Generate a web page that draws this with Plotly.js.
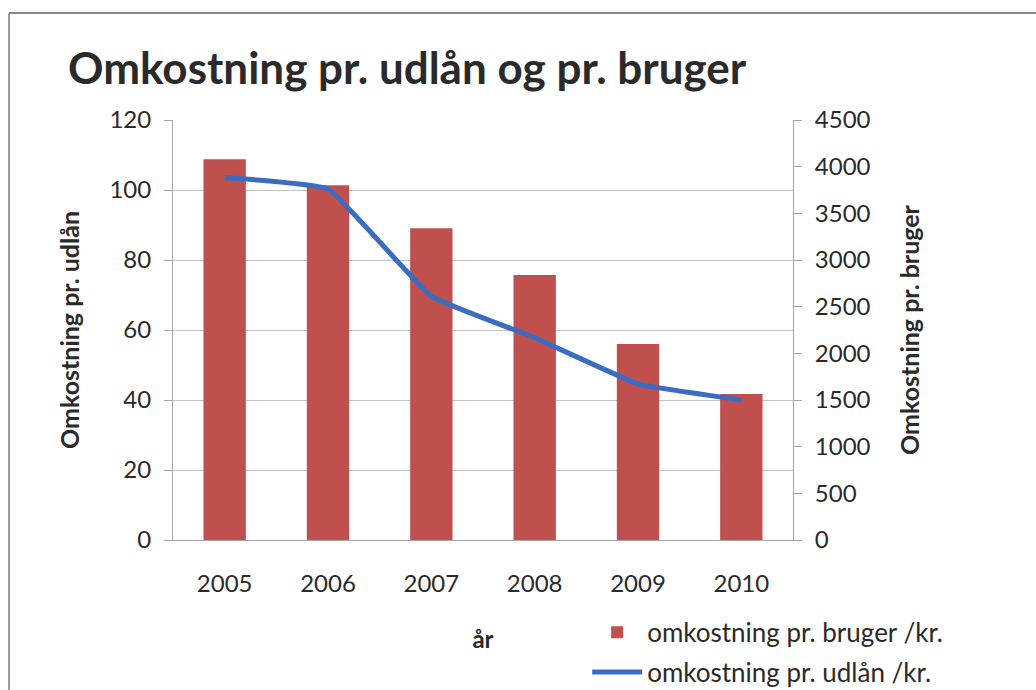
<!DOCTYPE html>
<html>
<head>
<meta charset="utf-8">
<script src="https://cdn.plot.ly/plotly-3.0.1.min.js"></script>
<style>
  html, body { margin: 0; padding: 0; background: #ffffff; }
  #chart { width: 1036px; height: 690px; }
</style>
</head>
<body>
<div id="chart"></div>
<script>
// ---- data ----
const years = ['2005', '2006', '2007', '2008', '2009', '2010'];
const costPerUser = [4080, 3800, 3340, 2840, 2100, 1565];   // omkostning pr. bruger /kr. (right axis)
const costPerLoan = [103.6, 100.3, 69.6, 57.8, 44.6, 40.0]; // omkostning pr. udlån /kr. (left axis)
const leftTicks = [0, 20, 40, 60, 80, 100, 120];
const rightTicks = [0, 500, 1000, 1500, 2000, 2500, 3000, 3500, 4000, 4500];

const FONT = 'Lato, "Open Sans", sans-serif';
const TXT = '#2a2a2a';

const traces = [
  {
    type: 'bar',
    name: 'omkostning pr. bruger /kr.',
    legendgroup: 'a',
    x: years,
    y: costPerUser,
    yaxis: 'y',
    marker: { color: '#C0504D' },
    hoverinfo: 'x+y'
  },
  {
    type: 'scatter',
    mode: 'lines',
    name: 'omkostning pr. udlån /kr.',
    legendgroup: 'b',
    x: years,
    y: costPerLoan,
    yaxis: 'y2',
    line: { color: '#3A6CC2', width: 5, shape: 'spline', smoothing: 0.3 },
    hoverinfo: 'x+y'
  }
];

const layout = {
  width: 1036,
  height: 690,
  paper_bgcolor: '#ffffff',
  plot_bgcolor: '#ffffff',
  font: { family: FONT, color: TXT, size: 22 },
  margin: { l: 173, r: 243, t: 120, b: 150, pad: 0, autoexpand: false },
  showlegend: true,
  title: {
    text: '<b>Omkostning pr. udlån og pr. bruger</b>',
    font: { family: FONT, size: 44, color: TXT },
    xref: 'container', x: 0.0656, xanchor: 'left',
    yref: 'container', y: 0.9, yanchor: 'middle'
  },
  bargap: 0.59,
  xaxis: {
    type: 'category',
    categoryorder: 'array',
    categoryarray: years,
    automargin: false,
    showline: true, linecolor: '#a6a6a6', linewidth: 1,
    showgrid: false, zeroline: false,
    ticks: '', ticklabelstandoff: 22,
    tickfont: { family: FONT, size: 24, color: TXT },
    title: { text: '<b>år</b>', font: { family: FONT, size: 24, color: TXT }, standoff: 35 }
  },
  yaxis: {
    side: 'right',
    range: [0, 4500],
    tickvals: rightTicks,
    automargin: false,
    showline: true, linecolor: '#a6a6a6', linewidth: 1,
    ticks: 'outside', ticklen: 8, tickcolor: '#a6a6a6',
    ticklabelstandoff: 8,
    showgrid: false, zeroline: false,
    tickfont: { family: FONT, size: 24, color: TXT },
    title: { text: '<b>Omkostning pr. bruger</b>', font: { family: FONT, size: 25, color: TXT }, standoff: 31 }
  },
  yaxis2: {
    overlaying: 'y',
    side: 'left',
    range: [0, 120],
    tickvals: leftTicks,
    automargin: false,
    showline: true, linecolor: '#a6a6a6', linewidth: 1,
    ticks: 'outside', ticklen: 8, tickcolor: '#a6a6a6',
    ticklabelstandoff: 8,
    showgrid: true, gridcolor: '#c4c4c4', gridwidth: 1,
    zeroline: false,
    tickfont: { family: FONT, size: 24, color: TXT },
    title: { text: '<b>Omkostning pr. udlån</b>', font: { family: FONT, size: 25, color: TXT }, standoff: 22 }
  },
  legend: {
    orientation: 'v',
    traceorder: 'grouped',
    x: 0.668, xanchor: 'left',
    y: -0.164, yanchor: 'top',
    font: { family: FONT, size: 26, color: TXT },
    bgcolor: 'rgba(0,0,0,0)',
    itemwidth: 50,
    tracegroupgap: 3
  },
  shapes: [
    { type: 'line', xref: 'paper', yref: 'paper', x0: -0.2645, x1: 1.40, y0: 1.2548, y1: 1.2548,
      line: { color: '#8a8a8a', width: 2 } },
    { type: 'line', xref: 'paper', yref: 'paper', x0: -0.2645, x1: -0.2645, y0: 1.2548, y1: -0.36,
      line: { color: '#9a9a9a', width: 2 } }
  ]
};

Plotly.newPlot('chart', traces, layout, { displayModeBar: false, staticPlot: true });
</script>
</body>
</html>
